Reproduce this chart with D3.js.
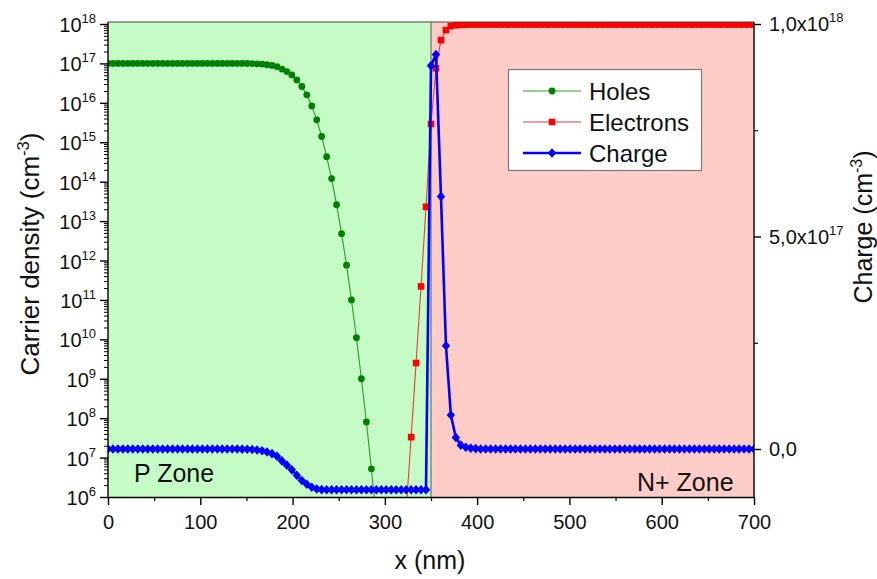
<!DOCTYPE html>
<html><head><meta charset="utf-8">
<script src="https://cdn.jsdelivr.net/npm/d3@7"></script>
<style>
body{margin:0;background:#fff;}
svg{display:block;font-family:"Liberation Sans",Arial,sans-serif;}
</style>
</head><body>
<svg id="chart" width="877" height="579"></svg>
<script>
// ---------- data ----------
const xNm = [
  0,5.4,10.8,16.2,21.5,26.9,32.3,37.7,43.1,48.5,
  53.8,59.2,64.6,70,75.4,80.8,86.2,91.5,96.9,102.3,
  107.7,113.1,118.5,123.8,129.2,134.6,140,145.4,150.8,156.2,
  161.5,166.9,172.3,177.7,183.1,188.5,193.8,199.2,204.6,210,
  215.4,220.8,226.2,231.5,236.9,242.3,247.7,253.1,258.5,263.8,
  269.2,274.6,280,285.4,290.8,296.2,301.5,306.9,312.3,317.7,
  323.1,328.5,333.8,339.2,344.6,350,355.4,360.8,366.2,371.5,
  376.9,382.3,387.7,393.1,398.5,403.8,409.2,414.6,420,425.4,
  430.8,436.2,441.5,446.9,452.3,457.7,463.1,468.5,473.8,479.2,
  484.6,490,495.4,500.8,506.2,511.5,516.9,522.3,527.7,533.1,
  538.5,543.8,549.2,554.6,560,565.4,570.8,576.2,581.5,586.9,
  592.3,597.7,603.1,608.5,613.8,619.2,624.6,630,635.4,640.8,
  646.2,651.5,656.9,662.3,667.7,673.1,678.5,683.8,689.2,694.6,
  700
];
// holes: first 55 mesh points
const holes = [
  1e17,1e17,1e17,1e17,1e17,1e17,1e17,1e17,1e17,1e17,
  1e17,1e17,1e17,1e17,1e17,1e17,1e17,1e17,1e17,1e17,
  1e17,1e17,1e17,1e17,1e17,1e17,1e17,9.97e16,9.94e16,9.88e16,
  9.78e16,9.6e16,9.3e16,8.9e16,8.3e16,7.2e16,6.2e16,5.1e16,3.8e16,2.6e16,
  1.6e16,8.3e15,3.7e15,1.4e15,4.3e14,1.2e14,2.6e13,4.8e12,7.6e11,1.0e11,
  1.1e10,1.0e9,8.0e7,5.2e6,3.0e5
];
// electrons: last 71 mesh points
const electrons = [
  4.7e5,3.3e7,2.5e9,2.2e11,2.3e13,2.9e15,7.5e16,3.9e17,7.0e17,8.9e17,
  9.3e17,9.5e17,9.6e17,9.7e17,9.7e17,9.7e17,9.7e17,9.7e17,9.7e17,9.7e17,
  9.7e17,9.7e17,9.7e17,9.7e17,9.7e17,9.7e17,9.7e17,9.7e17,9.7e17,9.7e17,
  9.7e17,9.7e17,9.7e17,9.7e17,9.7e17,9.7e17,9.7e17,9.7e17,9.7e17,9.7e17,
  9.7e17,9.7e17,9.7e17,9.7e17,9.7e17,9.7e17,9.7e17,9.7e17,9.7e17,9.7e17,
  9.7e17,9.7e17,9.7e17,9.7e17,9.7e17,9.7e17,9.7e17,9.7e17,9.7e17,9.7e17,
  9.7e17,9.7e17,9.7e17,9.7e17,9.7e17,9.7e17,9.7e17,9.7e17,9.7e17,9.7e17,
  9.7e17
];
// charge: all 131 mesh points (right axis)
const charge = [
  0,0,0,0,0,0,0,0,0,0,
  0,0,0,0,0,0,0,0,0,0,
  0,0,0,0,0,0,0,-3e14,-6e14,-1.2e15,
  -2.2e15,-4e15,-7e15,-1.1e16,-1.7e16,-2.8e16,-3.8e16,-4.9e16,-6.2e16,-7.4e16,
  -8.3e16,-9.0e16,-9.4e16,-9.55e16,-9.6e16,-9.6e16,-9.6e16,-9.6e16,-9.6e16,-9.6e16,
  -9.6e16,-9.6e16,-9.6e16,-9.6e16,-9.6e16,-9.6e16,-9.6e16,-9.6e16,-9.6e16,-9.6e16,
  -9.6e16,-9.6e16,-9.6e16,-9.6e16,-9.6e16,9.02e17,9.28e17,5.94e17,2.43e17,8.0e16,
  2.7e16,9e15,4e15,2e15,1e15,0,0,0,0,0,
  0,0,0,0,0,0,0,0,0,0,
  0,0,0,0,0,0,0,0,0,0,
  0,0,0,0,0,0,0,0,0,0,
  0,0,0,0,0,0,0,0,0,0,
  0,0,0,0,0,0,0,0,0,0,
  0
];
const xTicks = [0,100,200,300,400,500,600,700];
const xMinorTicks = [50,150,250,350,450,550,650];
const leftExponents = [6,7,8,9,10,11,12,13,14,15,16,17,18];
const rightTicks = [0,5e17,1e18];
const rightTickLabels = [["0,0",""],["5,0x10","17"],["1,0x10","18"]];
const rightMinorTicks = [2.5e17,7.5e17];
const zoneNames = ["P Zone","N+ Zone"];
const zoneBounds = [[0,350],[350,700]];
const seriesNames = ["Holes","Electrons","Charge"];

// ---------- layout ----------
const L = 108, R = 754, T = 22, B = 497;
const svg = d3.select("#chart");
const x = d3.scaleLinear().domain([0,700]).range([L,R]);
const y = d3.scaleLog().domain([1e6,1e18]).range([B,24]);
const y2 = d3.scaleLinear().domain([0,1e18]).range([449,24]);

const col = {greenBg:"#c5fbc5", redBg:"#ffcdc7", green:"#008000", greenLine:"#2e9a2e",
             red:"#ff0000", redLine:"#f03a3a", blue:"#0000ff", text:"#111"};

// zone backgrounds
svg.selectAll("rect.zone").data(zoneBounds).join("rect")
  .attr("x", d=>x(d[0])).attr("y", T).attr("width", d=>x(d[1])-x(d[0])).attr("height", B-T)
  .attr("fill", (d,i)=> i===0 ? col.greenBg : col.redBg);
svg.append("line").attr("x1",x(350)).attr("x2",x(350)).attr("y1",T).attr("y2",B)
  .attr("stroke","#6e6e6e").attr("stroke-width",1.2);

// clip
svg.append("clipPath").attr("id","clip").append("rect")
  .attr("x",L).attr("y",T).attr("width",R-L).attr("height",B-T);
const plot = svg.append("g").attr("clip-path","url(#clip)");

// zone labels
svg.append("text").attr("x",134).attr("y",482).attr("font-size",25).attr("fill",col.text).text(zoneNames[0]);
svg.append("text").attr("x",637).attr("y",491).attr("font-size",25).attr("fill",col.text).text(zoneNames[1]);

// series
const holesPts = holes.map((v,i)=>[xNm[i],v]);
const elecOffset = xNm.length - electrons.length;
const elecPts = electrons.map((v,i)=>[xNm[i+elecOffset],v]);
const chargePts = charge.map((v,i)=>[xNm[i],v]);

const lineLog = d3.line().x(d=>x(d[0])).y(d=>y(d[1]));
const lineLin = d3.line().x(d=>x(d[0])).y(d=>y2(d[1]));

plot.append("path").attr("d",lineLog(holesPts)).attr("fill","none").attr("stroke",col.greenLine).attr("stroke-width",1.1);
plot.selectAll("circle.h").data(holesPts).join("circle")
  .attr("cx",d=>x(d[0])).attr("cy",d=>y(d[1])).attr("r",3.4).attr("fill",col.green);

plot.append("path").attr("d",lineLog(elecPts)).attr("fill","none").attr("stroke",col.redLine).attr("stroke-width",1.1);
plot.selectAll("rect.e").data(elecPts).join("rect")
  .attr("x",d=>x(d[0])-3.3).attr("y",d=>y(d[1])-3.3).attr("width",6.6).attr("height",6.6).attr("fill",col.red);

const diamond = "M0,-4.8L4.2,0L0,4.8L-4.2,0Z";
plot.append("path").attr("d",lineLin(chargePts)).attr("fill","none").attr("stroke",col.blue).attr("stroke-width",2.6).attr("stroke-linejoin","round");
plot.selectAll("path.c").data(chargePts).join("path")
  .attr("d",diamond).attr("transform",d=>`translate(${x(d[0])},${y2(d[1])})`).attr("fill",col.blue);

// frame
svg.append("line").attr("x1",L).attr("x2",R).attr("y1",T).attr("y2",T).attr("stroke","#444").attr("stroke-width",1);

// x axis
const gx = svg.append("g").attr("transform",`translate(0,${B})`)
  .call(d3.axisBottom(x).tickValues(xTicks).tickSize(8).tickSizeOuter(0).tickFormat(d3.format("d")));
gx.select(".domain").attr("stroke","#000").attr("stroke-width",1.4);
gx.selectAll(".tick line").attr("stroke","#000").attr("stroke-width",1.4);
gx.selectAll(".tick text").attr("font-size",20).attr("font-family","Liberation Sans, Arial, sans-serif").attr("fill",col.text).attr("dy","1.05em");
const gxm = svg.append("g").attr("transform",`translate(0,${B})`)
  .call(d3.axisBottom(x).tickValues(xMinorTicks).tickSize(4).tickSizeOuter(0).tickFormat(""));
gxm.select(".domain").remove();
gxm.selectAll(".tick line").attr("stroke","#000").attr("stroke-width",1.2);

// left axis (log)
const majorLeft = leftExponents.map(e=>Math.pow(10,e));
const minorLeft = [];
leftExponents.slice(0,-1).forEach(e=>{ for(let k=2;k<=9;k++) minorLeft.push(k*Math.pow(10,e)); });
const gy = svg.append("g").attr("transform",`translate(${L},0)`)
  .call(d3.axisLeft(y).tickValues(majorLeft).tickSize(8).tickSizeOuter(0).tickFormat(""));
gy.select(".domain").attr("stroke","#000").attr("stroke-width",1.4).attr("d",`M0,${T}V${B}`);
gy.selectAll(".tick line").attr("stroke","#000").attr("stroke-width",1.4);
const gym = svg.append("g").attr("transform",`translate(${L},0)`)
  .call(d3.axisLeft(y).tickValues(minorLeft).tickSize(4).tickSizeOuter(0).tickFormat(""));
gym.select(".domain").remove();
gym.selectAll(".tick line").attr("stroke","#000").attr("stroke-width",1);
leftExponents.forEach(e=>{
  const t = svg.append("text").attr("x",96).attr("y",y(Math.pow(10,e))+8)
    .attr("text-anchor","end").attr("fill",col.text).attr("font-size",20);
  t.append("tspan").text("10");
  t.append("tspan").attr("dy",-9).attr("font-size",13).text(e);
});

// right axis (linear)
const gr = svg.append("g").attr("transform",`translate(${R},0)`)
  .call(d3.axisRight(y2).tickValues(rightTicks).tickSize(7).tickSizeOuter(0).tickFormat(""));
gr.select(".domain").attr("stroke","#000").attr("stroke-width",1.4).attr("d",`M0,${T}V${B}`);
gr.selectAll(".tick line").attr("stroke","#000").attr("stroke-width",1.4);
const grm = svg.append("g").attr("transform",`translate(${R},0)`)
  .call(d3.axisRight(y2).tickValues(rightMinorTicks).tickSize(4).tickSizeOuter(0).tickFormat(""));
grm.select(".domain").remove();
grm.selectAll(".tick line").attr("stroke","#000").attr("stroke-width",1.2);
rightTicks.forEach((v,i)=>{
  const t = svg.append("text").attr("x",769).attr("y",y2(v)+7).attr("fill",col.text).attr("font-size",20);
  t.append("tspan").text(rightTickLabels[i][0]);
  if(rightTickLabels[i][1]) t.append("tspan").attr("dy",-9).attr("font-size",13).text(rightTickLabels[i][1]);
});

// axis titles
svg.append("text").attr("x",430).attr("y",569).attr("text-anchor","middle").attr("font-size",25).attr("fill",col.text).text("x (nm)");
function rotTitle(cx, cy, main, sup, fs){
  const t = svg.append("text").attr("transform",`translate(${cx},${cy}) rotate(-90)`)
    .attr("text-anchor","middle").attr("font-size",fs).attr("fill",col.text);
  t.append("tspan").text(main);
  t.append("tspan").attr("dy",-10).attr("font-size",fs*0.64).text(sup);
  t.append("tspan").attr("dy",10).text(")");
}
rotTitle(39,254,"Carrier density (cm","-3",26);
rotTitle(872,227,"Charge (cm","-3",25);

// legend
const lg = svg.append("g");
lg.append("rect").attr("x",508.5).attr("y",69.5).attr("width",193).attr("height",101)
  .attr("fill","#fff").attr("stroke","#7a7a7a").attr("stroke-width",1.2);
const legendY = [91,122,153];
const legendLine = [col.greenLine,col.redLine,col.blue];
const legendW = [1.1,1.1,2.6];
seriesNames.forEach((n,i)=>{
  lg.append("line").attr("x1",523).attr("x2",581).attr("y1",legendY[i]).attr("y2",legendY[i])
    .attr("stroke",legendLine[i]).attr("stroke-width",legendW[i]);
  if(i===0) lg.append("circle").attr("cx",552).attr("cy",legendY[i]).attr("r",3.4).attr("fill",col.green);
  if(i===1) lg.append("rect").attr("x",548.7).attr("y",legendY[i]-3.3).attr("width",6.6).attr("height",6.6).attr("fill",col.red);
  if(i===2) lg.append("path").attr("d",diamond).attr("transform",`translate(552,${legendY[i]})`).attr("fill",col.blue);
  lg.append("text").attr("x",589).attr("y",legendY[i]+8.5).attr("font-size",24).attr("fill",col.text).text(n);
});
</script>
</body></html>
